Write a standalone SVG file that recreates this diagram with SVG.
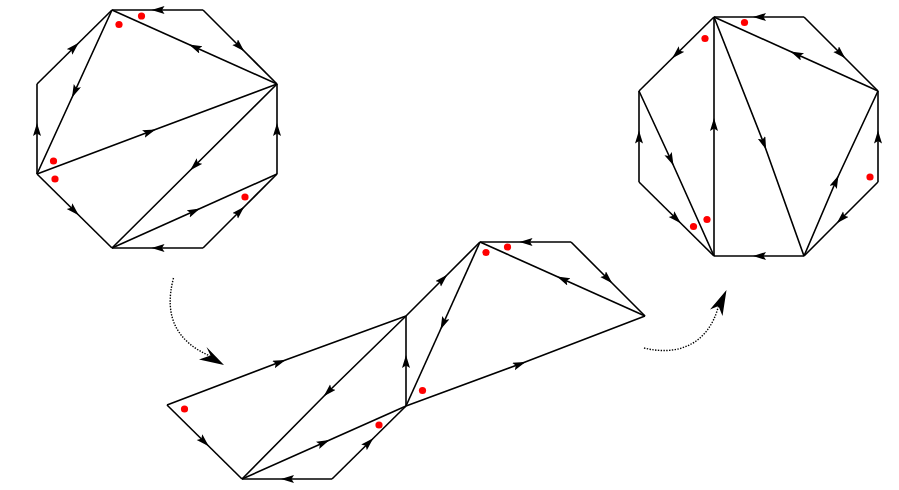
<svg xmlns="http://www.w3.org/2000/svg" width="899" height="490" viewBox="0 0 899 490">
<style>
.e{fill:none;stroke:#000;stroke-width:1.6;stroke-linejoin:miter;marker-mid:url(#ah)}
.d{fill:#f00;stroke:none}
.t{fill:none;stroke:#000;stroke-width:1.4;stroke-dasharray:1.4 1.4}
.h{fill:#000;stroke:none}
</style>
<defs>
<marker id="ah" markerUnits="userSpaceOnUse" markerWidth="14" markerHeight="10" refX="7" refY="4" orient="auto">
<path d="M0,0 L13,4 L0,8 L2.5,4 Z" fill="#000"/>
</marker>
</defs>
<rect width="899" height="490" fill="#fff"/>

<g id="octagon-left">
<path class="e" d="M203,10 L157.5,10 L112,10"/>
<path class="e" d="M203,10 L240,47 L277,84"/>
<path class="e" d="M277,174 L277,129 L277,84"/>
<path class="e" d="M203,248 L240,211 L277,174"/>
<path class="e" d="M203,248 L157.5,248 L112,248"/>
<path class="e" d="M37,174 L74.5,211 L112,248"/>
<path class="e" d="M37,174 L37,129 L37,84"/>
<path class="e" d="M37,84 L74.5,47 L112,10"/>
<path class="e" d="M112,10 L74.5,92 L37,174"/>
<path class="e" d="M277,84 L194.5,47 L112,10"/>
<path class="e" d="M37,174 L150,131.5 L277,84"/>
<path class="e" d="M277,84 L194.5,166 L112,248"/>
<path class="e" d="M112,248 L194.5,211 L277,174"/>
<circle class="d" cx="141.5" cy="16" r="3.6"/>
<circle class="d" cx="119" cy="24.5" r="3.6"/>
<circle class="d" cx="53.5" cy="161" r="3.6"/>
<circle class="d" cx="55" cy="179" r="3.6"/>
<circle class="d" cx="245" cy="197" r="3.6"/>
</g>

<g id="figure-middle">
<path class="e" d="M167,405 L280,362 L406,316"/>
<path class="e" d="M167,405 L204.5,442 L242,479"/>
<path class="e" d="M332,479 L287,479 L242,479"/>
<path class="e" d="M332,479 L369,442.5 L406,406"/>
<path class="e" d="M242,479 L324,442.5 L406,406"/>
<path class="e" d="M406,316 L328,392 L242,479"/>
<path class="e" d="M406,406 L406,361 L406,316"/>
<path class="e" d="M406,316 L443,279 L480,242"/>
<path class="e" d="M480,242 L443,324 L406,406"/>
<path class="e" d="M571,242 L525.5,242 L480,242"/>
<path class="e" d="M571,242 L608,279 L645,316"/>
<path class="e" d="M645,316 L562.5,279 L480,242"/>
<path class="e" d="M406,406 L520,364 L645,316"/>
<circle class="d" cx="184.5" cy="409" r="3.6"/>
<circle class="d" cx="379" cy="425" r="3.6"/>
<circle class="d" cx="422.5" cy="390.5" r="3.6"/>
<circle class="d" cx="486" cy="252.5" r="3.6"/>
<circle class="d" cx="507.5" cy="247" r="3.6"/>
</g>

<g id="octagon-right">
<path class="e" d="M804,17 L759,17 L714,17"/>
<path class="e" d="M804,17 L841,54 L878,91"/>
<path class="e" d="M878,182 L878,136.5 L878,91"/>
<path class="e" d="M878,182 L841,219 L804,256"/>
<path class="e" d="M804,256 L759,256 L714,256"/>
<path class="e" d="M639,182 L676.5,219 L714,256"/>
<path class="e" d="M639,182 L639,136.5 L639,91"/>
<path class="e" d="M714,17 L676.5,54 L639,91"/>
<path class="e" d="M714,256 L714,124 L714,17"/>
<path class="e" d="M878,91 L796,54 L714,17"/>
<path class="e" d="M714,17 L764,144 L804,256"/>
<path class="e" d="M639,91 L671,160 L714,256"/>
<path class="e" d="M804,256 L836,181 L878,91"/>
<circle class="d" cx="744.5" cy="22.5" r="3.6"/>
<circle class="d" cx="705" cy="38.5" r="3.6"/>
<circle class="d" cx="870" cy="177" r="3.6"/>
<circle class="d" cx="707" cy="219.5" r="3.6"/>
<circle class="d" cx="693.5" cy="226.5" r="3.6"/>
</g>

<g id="transitions">
<path class="t" d="M173.5,278 C163,318 178,342 210,356"/>
<path class="h" d="M224,365 L206.5,347 L210.5,355.5 L199,359.5 Z"/>
<path class="t" d="M644,348 C676,356 708,346 718.5,306"/>
<path class="h" d="M726.5,290 L710,309.5 L718.5,306 L722.5,316 Z"/>
</g>
</svg>
